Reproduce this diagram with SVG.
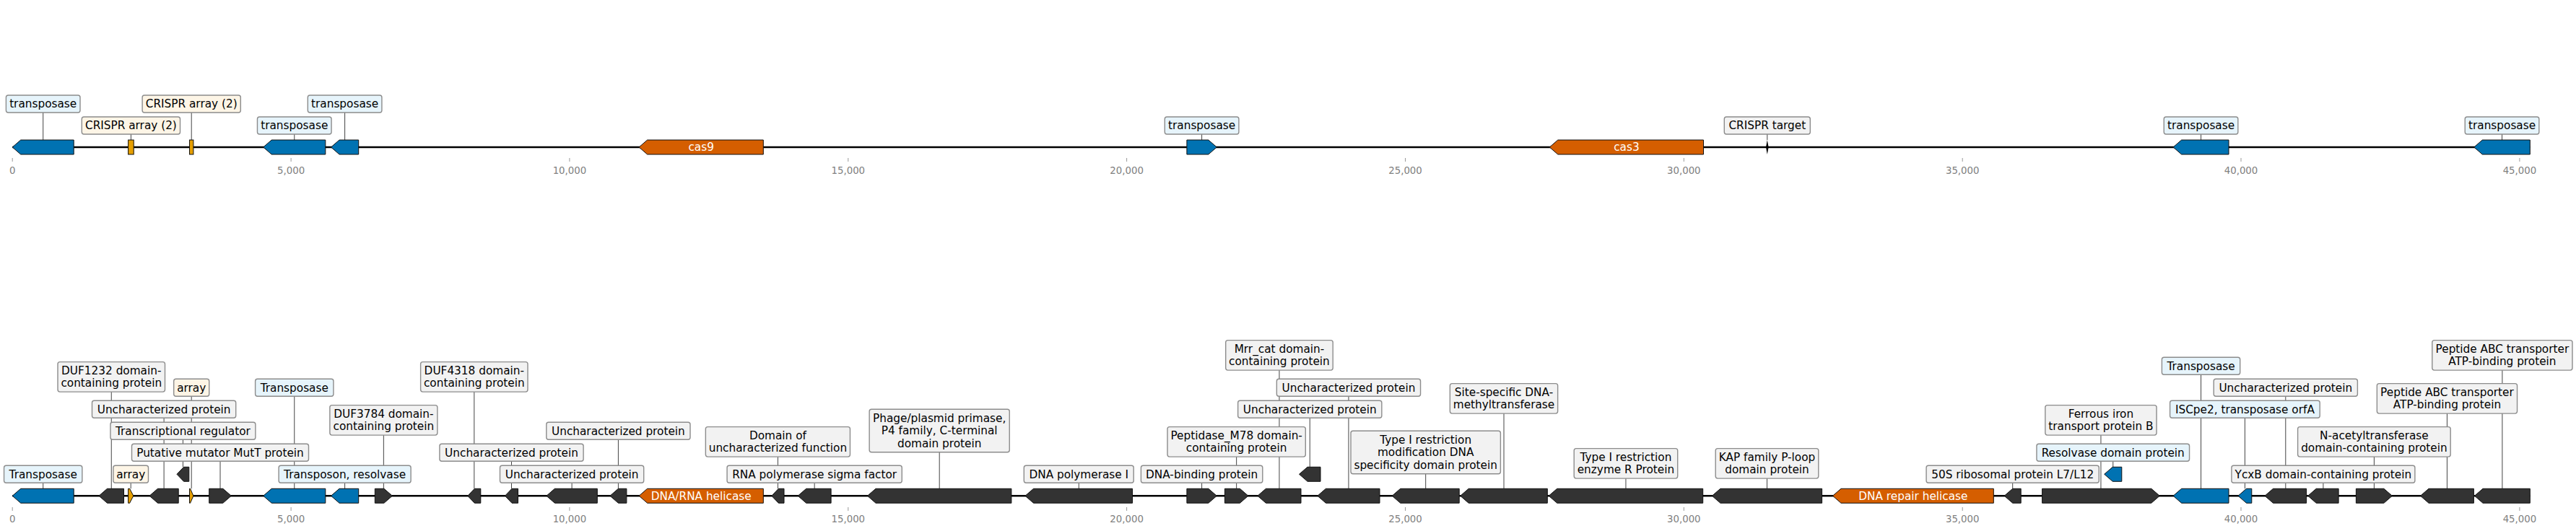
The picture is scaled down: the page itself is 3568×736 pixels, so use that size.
<svg xmlns="http://www.w3.org/2000/svg" width="3568" height="736" viewBox="0 0 3568 736">
<style>
.bb{stroke:#000;stroke-width:2.4;fill:none}
.g{stroke:#111;stroke-width:1}
.blue{fill:#0072B2}.blk{fill:#333333}.org{fill:#D55E00}.arr{fill:#E69F00}
.box{stroke:#8c8c8c;stroke-width:1.4}
.gry{fill:#f2f2f2}.lb{fill:#e6f4fb}.cr{fill:#fdf5e6}
text{font-family:"DejaVu Sans","Liberation Sans",sans-serif;font-size:15.3px;fill:#000;text-anchor:middle}
text.in{fill:#fff}
.tk{stroke:#999;stroke-width:1}
text.tl{fill:#808080;font-size:13.3px}
.ldr{stroke:#444;stroke-width:1}
</style>
<rect width="3568" height="736" fill="#fff"/>
<g id="axes">
<line class="bb" x1="17.2" y1="204" x2="3504.3" y2="204"/>
<line class="bb" x1="17.2" y1="687.3" x2="3504.3" y2="687.3"/>
<g id="ticks-top">
<line class="tk" x1="17.2" y1="219" x2="17.2" y2="224"/><text class="tl" x="17.2" y="240.7">0</text>
<line class="tk" x1="403.1" y1="219" x2="403.1" y2="224"/><text class="tl" x="403.1" y="240.7">5,000</text>
<line class="tk" x1="788.9" y1="219" x2="788.9" y2="224"/><text class="tl" x="788.9" y="240.7">10,000</text>
<line class="tk" x1="1174.8" y1="219" x2="1174.8" y2="224"/><text class="tl" x="1174.8" y="240.7">15,000</text>
<line class="tk" x1="1560.6" y1="219" x2="1560.6" y2="224"/><text class="tl" x="1560.6" y="240.7">20,000</text>
<line class="tk" x1="1946.5" y1="219" x2="1946.5" y2="224"/><text class="tl" x="1946.5" y="240.7">25,000</text>
<line class="tk" x1="2332.3" y1="219" x2="2332.3" y2="224"/><text class="tl" x="2332.3" y="240.7">30,000</text>
<line class="tk" x1="2718.2" y1="219" x2="2718.2" y2="224"/><text class="tl" x="2718.2" y="240.7">35,000</text>
<line class="tk" x1="3104" y1="219" x2="3104" y2="224"/><text class="tl" x="3104" y="240.7">40,000</text>
<line class="tk" x1="3489.9" y1="219" x2="3489.9" y2="224"/><text class="tl" x="3489.9" y="240.7">45,000</text>
</g>
<g id="ticks-bottom">
<line class="tk" x1="17.2" y1="703" x2="17.2" y2="708"/><text class="tl" x="17.2" y="724">0</text>
<line class="tk" x1="403.1" y1="703" x2="403.1" y2="708"/><text class="tl" x="403.1" y="724">5,000</text>
<line class="tk" x1="788.9" y1="703" x2="788.9" y2="708"/><text class="tl" x="788.9" y="724">10,000</text>
<line class="tk" x1="1174.8" y1="703" x2="1174.8" y2="708"/><text class="tl" x="1174.8" y="724">15,000</text>
<line class="tk" x1="1560.6" y1="703" x2="1560.6" y2="708"/><text class="tl" x="1560.6" y="724">20,000</text>
<line class="tk" x1="1946.5" y1="703" x2="1946.5" y2="708"/><text class="tl" x="1946.5" y="724">25,000</text>
<line class="tk" x1="2332.3" y1="703" x2="2332.3" y2="708"/><text class="tl" x="2332.3" y="724">30,000</text>
<line class="tk" x1="2718.2" y1="703" x2="2718.2" y2="708"/><text class="tl" x="2718.2" y="724">35,000</text>
<line class="tk" x1="3104" y1="703" x2="3104" y2="708"/><text class="tl" x="3104" y="724">40,000</text>
<line class="tk" x1="3489.9" y1="703" x2="3489.9" y2="708"/><text class="tl" x="3489.9" y="724">45,000</text>
</g>
</g>
<g id="connectors">
<line class="ldr" x1="59.7" y1="156" x2="59.7" y2="194"/>
<line class="ldr" x1="181.4" y1="186" x2="181.4" y2="194"/>
<line class="ldr" x1="265.2" y1="156" x2="265.2" y2="194"/>
<line class="ldr" x1="407.75" y1="186" x2="407.75" y2="194"/>
<line class="ldr" x1="477.6" y1="156" x2="477.6" y2="194"/>
<line class="ldr" x1="1664.6" y1="186" x2="1664.6" y2="194"/>
<line class="ldr" x1="2447.8" y1="186" x2="2447.8" y2="194"/>
<line class="ldr" x1="3048.55" y1="186" x2="3048.55" y2="194"/>
<line class="ldr" x1="3465.55" y1="186" x2="3465.55" y2="194"/>
<line class="ldr" x1="59.7" y1="669.3" x2="59.7" y2="677.3"/>
<line class="ldr" x1="154.25" y1="543.1" x2="154.25" y2="677.3"/>
<line class="ldr" x1="181.2" y1="669.3" x2="181.2" y2="677.3"/>
<line class="ldr" x1="227.1" y1="579.3" x2="227.1" y2="677.3"/>
<line class="ldr" x1="253.4" y1="609.3" x2="253.4" y2="647.3"/>
<line class="ldr" x1="265.2" y1="549.3" x2="265.2" y2="677.3"/>
<line class="ldr" x1="305" y1="639.3" x2="305" y2="677.3"/>
<line class="ldr" x1="407.75" y1="549.3" x2="407.75" y2="677.3"/>
<line class="ldr" x1="477.6" y1="669.3" x2="477.6" y2="677.3"/>
<line class="ldr" x1="531.35" y1="603.1" x2="531.35" y2="677.3"/>
<line class="ldr" x1="656.8" y1="543.1" x2="656.8" y2="677.3"/>
<line class="ldr" x1="708.5" y1="639.3" x2="708.5" y2="677.3"/>
<line class="ldr" x1="792.1" y1="669.3" x2="792.1" y2="677.3"/>
<line class="ldr" x1="856.4" y1="609.3" x2="856.4" y2="677.3"/>
<line class="ldr" x1="1077.4" y1="633.1" x2="1077.4" y2="677.3"/>
<line class="ldr" x1="1128.15" y1="669.3" x2="1128.15" y2="677.3"/>
<line class="ldr" x1="1301.2" y1="626.7" x2="1301.2" y2="677.3"/>
<line class="ldr" x1="1494.25" y1="669.3" x2="1494.25" y2="677.3"/>
<line class="ldr" x1="1664.6" y1="669.3" x2="1664.6" y2="677.3"/>
<line class="ldr" x1="1712.65" y1="633.1" x2="1712.65" y2="677.3"/>
<line class="ldr" x1="1771.95" y1="513.1" x2="1771.95" y2="677.3"/>
<line class="ldr" x1="1814.25" y1="579.3" x2="1814.25" y2="647.3"/>
<line class="ldr" x1="1867.95" y1="549.3" x2="1867.95" y2="677.3"/>
<line class="ldr" x1="1974.7" y1="656.7" x2="1974.7" y2="677.3"/>
<line class="ldr" x1="2083" y1="573.1" x2="2083" y2="677.3"/>
<line class="ldr" x1="2251.95" y1="663.1" x2="2251.95" y2="677.3"/>
<line class="ldr" x1="2447.5" y1="663.1" x2="2447.5" y2="677.3"/>
<line class="ldr" x1="2787.7" y1="669.3" x2="2787.7" y2="677.3"/>
<line class="ldr" x1="2909.95" y1="603.1" x2="2909.95" y2="677.3"/>
<line class="ldr" x1="2926.75" y1="639.3" x2="2926.75" y2="647.3"/>
<line class="ldr" x1="3048.55" y1="519.3" x2="3048.55" y2="677.3"/>
<line class="ldr" x1="3109.4" y1="579.3" x2="3109.4" y2="677.3"/>
<line class="ldr" x1="3165.8" y1="549.3" x2="3165.8" y2="677.3"/>
<line class="ldr" x1="3217.9" y1="669.3" x2="3217.9" y2="677.3"/>
<line class="ldr" x1="3288.4" y1="633.1" x2="3288.4" y2="677.3"/>
<line class="ldr" x1="3389.45" y1="573.1" x2="3389.45" y2="677.3"/>
<line class="ldr" x1="3465.9" y1="513.1" x2="3465.9" y2="677.3"/>
</g>
<!-- TOP TRACK -->
<g id="t1"><polygon class="g blue" points="17.2,204 28.7,194 102.2,194 102.2,214 28.7,214"/><rect class="box lb" x="8.4" y="132" width="102.6" height="24" rx="3"/><text x="59.7" y="149.3">transposase</text></g>
<g id="t2"><rect class="g arr" x="177.6" y="194" width="7.6" height="20"/><rect class="box cr" x="113.3" y="162" width="136.2" height="24" rx="3"/><text x="181.4" y="179.3">CRISPR array (2)</text></g>
<g id="t3"><rect class="g arr" x="262.5" y="194" width="5.4" height="20"/><rect class="box cr" x="197.1" y="132" width="136.2" height="24" rx="3"/><text x="265.2" y="149.3">CRISPR array (2)</text></g>
<g id="t4"><polygon class="g blue" points="364.7,204 376.2,194 450.8,194 450.8,214 376.2,214"/><rect class="box lb" x="356.45" y="162" width="102.6" height="24" rx="3"/><text x="407.75" y="179.3">transposase</text></g>
<g id="t5"><polygon class="g blue" points="458.5,204 470,194 496.7,194 496.7,214 470,214"/><rect class="box lb" x="426.3" y="132" width="102.6" height="24" rx="3"/><text x="477.6" y="149.3">transposase</text></g>
<g id="t6"><polygon class="g org" points="885.1,204 896.6,194 1057.3,194 1057.3,214 896.6,214"/><text class="in" x="971.2" y="209.3">cas9</text></g>
<g id="t7"><polygon class="g blue" points="1643.9,194 1673.8,194 1685.3,204 1673.8,214 1643.9,214"/><rect class="box lb" x="1613.3" y="162" width="102.6" height="24" rx="3"/><text x="1664.6" y="179.3">transposase</text></g>
<g id="t8"><polygon class="g org" points="2146.3,204 2157.8,194 2359.5,194 2359.5,214 2157.8,214"/><text class="in" x="2252.9" y="209.3">cas3</text></g>
<g id="t9"><polygon fill="#000" points="2447.8,194 2449.6,204 2447.8,214 2446,204"/><rect class="box gry" x="2388.3" y="162" width="119" height="24" rx="3"/><text x="2447.8" y="179.3">CRISPR target</text></g>
<g id="t10"><polygon class="g blue" points="3010.1,204 3021.6,194 3087,194 3087,214 3021.6,214"/><rect class="box lb" x="2997.25" y="162" width="102.6" height="24" rx="3"/><text x="3048.55" y="179.3">transposase</text></g>
<g id="t11"><polygon class="g blue" points="3426.8,204 3438.3,194 3504.3,194 3504.3,214 3438.3,214"/><rect class="box lb" x="3414.25" y="162" width="102.6" height="24" rx="3"/><text x="3465.55" y="179.3">transposase</text></g>
<!-- BOTTOM TRACK -->
<g id="b1"><polygon class="g blue" points="17.2,687.3 28.7,677.3 102.2,677.3 102.2,697.3 28.7,697.3"/><rect class="box lb" x="5.55" y="645.3" width="108.3" height="24" rx="3"/><text x="59.7" y="662.6">Transposase</text></g>
<g id="b2"><polygon class="g blk" points="137,687.3 148.5,677.3 171.5,677.3 171.5,697.3 148.5,697.3"/><rect class="box gry" x="80" y="501.6" width="148.5" height="41.5" rx="3"/><text x="154.25" y="518.9">DUF1232 domain-</text><text x="154.25" y="536.4">containing protein</text></g>
<g id="b3"><polygon class="g arr" points="177.6,677.3 179.6,677.3 184.8,687.3 179.6,697.3 177.6,697.3"/><rect class="box cr" x="156.9" y="645.3" width="48.6" height="24" rx="3"/><text x="181.2" y="662.6">array</text></g>
<g id="b4"><polygon class="g blk" points="207,687.3 218.5,677.3 247.2,677.3 247.2,697.3 218.5,697.3"/><rect class="box gry" x="127.5" y="555.3" width="199.2" height="24" rx="3"/><text x="227.1" y="572.6">Uncharacterized protein</text></g>
<g id="b5"><polygon class="g blk" points="245,657.3 254.5,647.3 261.8,647.3 261.8,667.3 254.5,667.3"/><rect class="box gry" x="152.95" y="585.3" width="200.9" height="24" rx="3"/><text x="253.4" y="602.6">Transcriptional regulator</text></g>
<g id="b6"><polygon class="g arr" points="262.5,677.3 263.5,677.3 267.9,687.3 263.5,697.3 262.5,697.3"/><rect class="box cr" x="240.7" y="525.3" width="49" height="24" rx="3"/><text x="265.2" y="542.6">array</text></g>
<g id="b7"><polygon class="g blk" points="289.7,677.3 308.8,677.3 320.3,687.3 308.8,697.3 289.7,697.3"/><rect class="box gry" x="182.5" y="615.3" width="245" height="24" rx="3"/><text x="305" y="632.6">Putative mutator MutT protein</text></g>
<g id="b8"><polygon class="g blue" points="364.7,687.3 376.2,677.3 450.8,677.3 450.8,697.3 376.2,697.3"/><rect class="box lb" x="353.6" y="525.3" width="108.3" height="24" rx="3"/><text x="407.75" y="542.6">Transposase</text></g>
<g id="b9"><polygon class="g blue" points="458.5,687.3 470,677.3 496.7,677.3 496.7,697.3 470,697.3"/><rect class="box lb" x="386.1" y="645.3" width="183" height="24" rx="3"/><text x="477.6" y="662.6">Transposon, resolvase</text></g>
<g id="b10"><polygon class="g blk" points="519.3,677.3 531.9,677.3 543.4,687.3 531.9,697.3 519.3,697.3"/><rect class="box gry" x="456.85" y="561.6" width="149" height="41.5" rx="3"/><text x="531.35" y="578.9">DUF3784 domain-</text><text x="531.35" y="596.4">containing protein</text></g>
<g id="b11"><polygon class="g blk" points="647.8,687.3 657.3,677.3 665.8,677.3 665.8,697.3 657.3,697.3"/><rect class="box gry" x="582.6" y="501.6" width="148.4" height="41.5" rx="3"/><text x="656.8" y="518.9">DUF4318 domain-</text><text x="656.8" y="536.4">containing protein</text></g>
<g id="b12"><polygon class="g blk" points="699.5,687.3 709,677.3 717.5,677.3 717.5,697.3 709,697.3"/><rect class="box gry" x="608.9" y="615.3" width="199.2" height="24" rx="3"/><text x="708.5" y="632.6">Uncharacterized protein</text></g>
<g id="b13"><polygon class="g blk" points="756.9,687.3 768.4,677.3 827.3,677.3 827.3,697.3 768.4,697.3"/><rect class="box gry" x="692.5" y="645.3" width="199.2" height="24" rx="3"/><text x="792.1" y="662.6">Uncharacterized protein</text></g>
<g id="b14"><polygon class="g blk" points="844.9,687.3 856.4,677.3 867.9,677.3 867.9,697.3 856.4,697.3"/><rect class="box gry" x="756.8" y="585.3" width="199.2" height="24" rx="3"/><text x="856.4" y="602.6">Uncharacterized protein</text></g>
<g id="b15"><polygon class="g org" points="885.1,687.3 896.6,677.3 1057.3,677.3 1057.3,697.3 896.6,697.3"/><text class="in" x="971.2" y="692.6">DNA/RNA helicase</text></g>
<g id="b16"><polygon class="g blk" points="1068.8,687.3 1078.3,677.3 1086,677.3 1086,697.3 1078.3,697.3"/><rect class="box gry" x="977.35" y="591.6" width="200.1" height="41.5" rx="3"/><text x="1077.4" y="608.9">Domain of</text><text x="1077.4" y="626.4">uncharacterized function</text></g>
<g id="b17"><polygon class="g blk" points="1105.2,687.3 1116.7,677.3 1151.1,677.3 1151.1,697.3 1116.7,697.3"/><rect class="box gry" x="1007.05" y="645.3" width="242.2" height="24" rx="3"/><text x="1128.15" y="662.6">RNA polymerase sigma factor</text></g>
<g id="b18"><polygon class="g blk" points="1201.5,687.3 1213,677.3 1400.9,677.3 1400.9,697.3 1213,697.3"/><rect class="box gry" x="1204.15" y="567.3" width="194.1" height="59.4" rx="3"/><text x="1301.2" y="584.8">Phage/plasmid primase,</text><text x="1301.2" y="602.3">P4 family, C-terminal</text><text x="1301.2" y="619.8">domain protein</text></g>
<g id="b19"><polygon class="g blk" points="1420,687.3 1431.5,677.3 1568.5,677.3 1568.5,697.3 1431.5,697.3"/><rect class="box gry" x="1418.3" y="645.3" width="151.9" height="24" rx="3"/><text x="1494.25" y="662.6">DNA polymerase I</text></g>
<g id="b20"><polygon class="g blk" points="1643.9,677.3 1673.8,677.3 1685.3,687.3 1673.8,697.3 1643.9,697.3"/><rect class="box gry" x="1580.4" y="645.3" width="168.4" height="24" rx="3"/><text x="1664.6" y="662.6">DNA-binding protein</text></g>
<g id="b21"><polygon class="g blk" points="1696.4,677.3 1717.4,677.3 1728.9,687.3 1717.4,697.3 1696.4,697.3"/><rect class="box gry" x="1617" y="591.6" width="191.3" height="41.5" rx="3"/><text x="1712.65" y="608.9">Peptidase_M78 domain-</text><text x="1712.65" y="626.4">containing protein</text></g>
<g id="b22"><polygon class="g blk" points="1741.9,687.3 1753.4,677.3 1802,677.3 1802,697.3 1753.4,697.3"/><rect class="box gry" x="1697.7" y="471.6" width="148.5" height="41.5" rx="3"/><text x="1771.95" y="488.9">Mrr_cat domain-</text><text x="1771.95" y="506.4">containing protein</text></g>
<g id="b23"><polygon class="g blk" points="1799.5,657.3 1811,647.3 1829,647.3 1829,667.3 1811,667.3"/><rect class="box gry" x="1714.65" y="555.3" width="199.2" height="24" rx="3"/><text x="1814.25" y="572.6">Uncharacterized protein</text></g>
<g id="b24"><polygon class="g blk" points="1824.9,687.3 1836.4,677.3 1911,677.3 1911,697.3 1836.4,697.3"/><rect class="box gry" x="1768.35" y="525.3" width="199.2" height="24" rx="3"/><text x="1867.95" y="542.6">Uncharacterized protein</text></g>
<g id="b25"><polygon class="g blk" points="1928.2,687.3 1939.7,677.3 2021.2,677.3 2021.2,697.3 1939.7,697.3"/><rect class="box gry" x="1871" y="597.3" width="207.4" height="59.4" rx="3"/><text x="1974.7" y="614.8">Type I restriction</text><text x="1974.7" y="632.3">modification DNA</text><text x="1974.7" y="649.8">specificity domain protein</text></g>
<g id="b26"><polygon class="g blk" points="2022.7,687.3 2034.2,677.3 2143.3,677.3 2143.3,697.3 2034.2,697.3"/><rect class="box gry" x="2008.35" y="531.6" width="149.3" height="41.5" rx="3"/><text x="2083" y="548.9">Site-specific DNA-</text><text x="2083" y="566.4">methyltransferase</text></g>
<g id="b27"><polygon class="g blk" points="2145.2,687.3 2156.7,677.3 2358.7,677.3 2358.7,697.3 2156.7,697.3"/><rect class="box gry" x="2180.2" y="621.6" width="143.5" height="41.5" rx="3"/><text x="2251.95" y="638.9">Type I restriction</text><text x="2251.95" y="656.4">enzyme R Protein</text></g>
<g id="b28"><polygon class="g blk" points="2371.4,687.3 2382.9,677.3 2523.6,677.3 2523.6,697.3 2382.9,697.3"/><rect class="box gry" x="2376.2" y="621.6" width="142.6" height="41.5" rx="3"/><text x="2447.5" y="638.9">KAP family P-loop</text><text x="2447.5" y="656.4">domain protein</text></g>
<g id="b29"><polygon class="g org" points="2538.5,687.3 2550,677.3 2761.3,677.3 2761.3,697.3 2550,697.3"/><text class="in" x="2649.9" y="692.6">DNA repair helicase</text></g>
<g id="b30"><polygon class="g blk" points="2776.2,687.3 2787.7,677.3 2799.2,677.3 2799.2,697.3 2787.7,697.3"/><rect class="box gry" x="2668.1" y="645.3" width="239.2" height="24" rx="3"/><text x="2787.7" y="662.6">50S ribosomal protein L7/L12</text></g>
<g id="b31"><polygon class="g blk" points="2828.6,677.3 2979.8,677.3 2991.3,687.3 2979.8,697.3 2828.6,697.3"/><rect class="box gry" x="2832.85" y="561.6" width="154.2" height="41.5" rx="3"/><text x="2909.95" y="578.9">Ferrous iron</text><text x="2909.95" y="596.4">transport protein B</text></g>
<g id="b32"><polygon class="g blue" points="2914.7,657.3 2926.2,647.3 2938.8,647.3 2938.8,667.3 2926.2,667.3"/><rect class="box lb" x="2820.95" y="615.3" width="211.6" height="24" rx="3"/><text x="2926.75" y="632.6">Resolvase domain protein</text></g>
<g id="b33"><polygon class="g blue" points="3010.1,687.3 3021.6,677.3 3087,677.3 3087,697.3 3021.6,697.3"/><rect class="box lb" x="2994.4" y="495.3" width="108.3" height="24" rx="3"/><text x="3048.55" y="512.6">Transposase</text></g>
<g id="b34"><polygon class="g blue" points="3100,687.3 3111.5,677.3 3118.8,677.3 3118.8,697.3 3111.5,697.3"/><rect class="box lb" x="3005.6" y="555.3" width="207.6" height="24" rx="3"/><text x="3109.4" y="572.6">ISCpe2, transposase orfA</text></g>
<g id="b35"><polygon class="g blk" points="3137,687.3 3148.5,677.3 3194.6,677.3 3194.6,697.3 3148.5,697.3"/><rect class="box gry" x="3066.2" y="525.3" width="199.2" height="24" rx="3"/><text x="3165.8" y="542.6">Uncharacterized protein</text></g>
<g id="b36"><polygon class="g blk" points="3196.7,687.3 3208.2,677.3 3239.1,677.3 3239.1,697.3 3208.2,697.3"/><rect class="box gry" x="3090.9" y="645.3" width="254" height="24" rx="3"/><text x="3217.9" y="662.6">YcxB domain-containing protein</text></g>
<g id="b37"><polygon class="g blk" points="3263.4,677.3 3301.9,677.3 3313.4,687.3 3301.9,697.3 3263.4,697.3"/><rect class="box gry" x="3182.6" y="591.6" width="211.6" height="41.5" rx="3"/><text x="3288.4" y="608.9">N-acetyltransferase</text><text x="3288.4" y="626.4">domain-containing protein</text></g>
<g id="b38"><polygon class="g blk" points="3352.5,687.3 3364,677.3 3426.4,677.3 3426.4,697.3 3364,697.3"/><rect class="box gry" x="3292.35" y="531.6" width="194.2" height="41.5" rx="3"/><text x="3389.45" y="548.9">Peptide ABC transporter</text><text x="3389.45" y="566.4">ATP-binding protein</text></g>
<g id="b39"><polygon class="g blk" points="3427.5,687.3 3439,677.3 3504.3,677.3 3504.3,697.3 3439,697.3"/><rect class="box gry" x="3368.8" y="471.6" width="194.2" height="41.5" rx="3"/><text x="3465.9" y="488.9">Peptide ABC transporter</text><text x="3465.9" y="506.4">ATP-binding protein</text></g>
</svg>
